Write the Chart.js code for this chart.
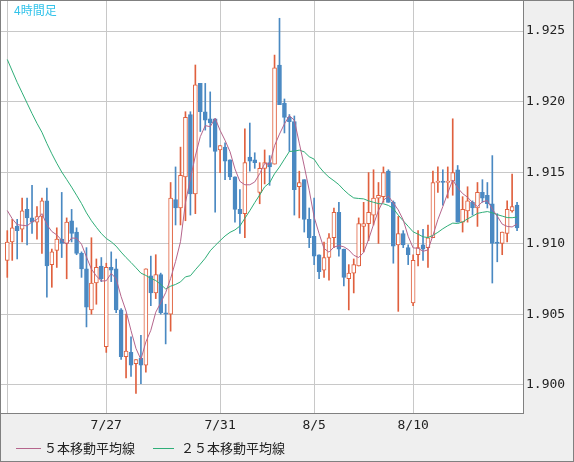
<!DOCTYPE html>
<html>
<head>
<meta charset="utf-8">
<script src="https://cdn.jsdelivr.net/npm/chart.js@4"></script>
<style>
  html, body { margin: 0; padding: 0; background: #efefef; }
  #wrap { width: 574px; height: 462px; }
</style>
</head>
<body>
<div id="wrap"><canvas id="chart" width="574" height="462"></canvas></div>
<script>
// 4-hour candles (oldest first)
const opens = [1.9088,1.9101,1.9112,1.9110,1.9124,1.9118,1.9115,1.9119,1.9130,1.9085,
  1.9095,1.9103,1.9100,1.9116,1.9108,1.9093,1.9082,1.9053,1.9072,1.9084,
  1.9027,1.9083,1.9082,1.9053,1.9020,1.9023,1.9015,1.9019,1.9014,1.9077,
  1.9065,1.9078,1.9051,1.9050,1.9131,1.9125,1.9147,1.9191,1.9135,1.9213,
  1.9193,1.9188,1.9188,1.9166,1.9168,1.9159,1.9147,1.9124,1.9121,1.9161,
  1.9159,1.9136,1.9153,1.9157,1.9156,1.9226,1.9199,1.9189,1.9186,1.9140,
  1.9145,1.9117,1.9105,1.9092,1.9081,1.9090,1.9104,1.9122,1.9096,1.9075,
  1.9079,1.9084,1.9112,1.9114,1.9120,1.9132,1.9133,1.9151,1.9129,1.9099,
  1.9107,1.9097,1.9058,1.9092,1.9099,1.9097,1.9104,1.9143,1.9144,1.9143,
  1.9144,1.9152,1.9115,1.9123,1.9129,1.9125,1.9136,1.9134,1.9128,1.9101,
  1.9100,1.9107,1.9123,1.9127];
const highs = [1.9109,1.9117,1.9117,1.9132,1.9132,1.9141,1.9126,1.9132,1.9139,1.9096,
  1.9111,1.9136,1.9118,1.9124,1.9111,1.9094,1.9097,1.9104,1.9089,1.9090,
  1.9086,1.9094,1.9089,1.9054,1.9050,1.9034,1.9018,1.9035,1.9082,1.9091,
  1.9092,1.9079,1.9057,1.9143,1.9154,1.9168,1.9193,1.9193,1.9226,1.9213,
  1.9213,1.9207,1.9188,1.9169,1.9171,1.9159,1.9147,1.9138,1.9181,1.9185,
  1.9164,1.9157,1.9166,1.9162,1.9233,1.9259,1.9202,1.9191,1.9190,1.9151,
  1.9145,1.9125,1.9132,1.9092,1.9101,1.9107,1.9125,1.9129,1.9096,1.9085,
  1.9089,1.9118,1.9129,1.9150,1.9152,1.9143,1.9154,1.9152,1.9130,1.9119,
  1.9109,1.9099,1.9092,1.9109,1.9110,1.9113,1.9151,1.9154,1.9152,1.9154,
  1.9188,1.9155,1.9133,1.9140,1.9130,1.9143,1.9145,1.9143,1.9162,1.9121,
  1.9108,1.9130,1.9149,1.9129];
const lows = [1.9076,1.9088,1.9089,1.9101,1.9099,1.9107,1.9103,1.9093,1.9062,1.9069,
  1.9083,1.9090,1.9075,1.9101,1.9092,1.9076,1.9041,1.9050,1.9057,1.9073,
  1.9023,1.9073,1.9051,1.9018,1.9005,1.9006,1.8994,1.9001,1.9009,1.9056,
  1.9061,1.9050,1.9029,1.9038,1.9113,1.9113,1.9116,1.9120,1.9121,1.9179,
  1.9180,1.9168,1.9122,1.9150,1.9145,1.9145,1.9115,1.9107,1.9104,1.9151,
  1.9153,1.9128,1.9142,1.9141,1.9156,1.9198,1.9178,1.9165,1.9120,1.9118,
  1.9108,1.9097,1.9085,1.9075,1.9076,1.9074,1.9097,1.9091,1.9070,1.9053,
  1.9065,1.9084,1.9094,1.9102,1.9113,1.9100,1.9129,1.9129,1.9086,1.9052,
  1.9097,1.9085,1.9056,1.9084,1.9088,1.9083,1.9104,1.9136,1.9127,1.9132,
  1.9134,1.9115,1.9108,1.9115,1.9120,1.9112,1.9129,1.9125,1.9072,1.9087,
  1.9092,1.9101,1.9122,1.9109];
const closes = [1.9101,1.9111,1.9109,1.9123,1.9118,1.9115,1.9119,1.9130,1.9084,1.9094,
  1.9103,1.9100,1.9115,1.9107,1.9093,1.9082,1.9055,1.9072,1.9083,1.9075,
  1.9083,1.9081,1.9053,1.9020,1.9024,1.9014,1.9018,1.9014,1.9082,1.9065,
  1.9078,1.9051,1.9050,1.9132,1.9125,1.9148,1.9189,1.9135,1.9212,1.9193,
  1.9187,1.9185,1.9165,1.9169,1.9158,1.9147,1.9124,1.9121,1.9157,1.9158,
  1.9157,1.9153,1.9157,1.9154,1.9224,1.9198,1.9189,1.9186,1.9138,1.9143,
  1.9117,1.9104,1.9091,1.9080,1.9090,1.9104,1.9122,1.9096,1.9076,1.9079,
  1.9085,1.9114,1.9114,1.9122,1.9132,1.9134,1.9150,1.9129,1.9098,1.9107,
  1.9099,1.9092,1.9088,1.9097,1.9096,1.9104,1.9143,1.9144,1.9143,1.9144,
  1.9150,1.9115,1.9124,1.9130,1.9125,1.9136,1.9132,1.9128,1.9100,1.9100,
  1.9108,1.9124,1.9126,1.9111];
// closes before the visible window (needed for the moving averages)
const priorCloses = [1.9315,1.9310,1.9306,1.9302,1.9298,1.9292,1.9288,1.9282,1.9276,1.9270,
  1.9254,1.9248,1.9242,1.9236,1.9228,1.9220,1.9210,1.9200,1.9185,1.9170,
  1.9140,1.9130,1.9125,1.9120];

const yTicks = [1.900, 1.905, 1.910, 1.915, 1.920, 1.925];
const dayIndex = [0, 20, 43, 62, 82];
const dayLabels = ["", "7/27", "7/31", "8/5", "8/10"];

const RED = "#e0603e";
const BLUE = "#4a89c2";

function movingAvg(n) {
  const all = priorCloses.concat(closes);
  const off = priorCloses.length;
  return closes.map((c, i) => {
    let s = 0;
    for (let k = off + i - n + 1; k <= off + i; k++) s += all[k];
    return { x: i, y: s / n };
  });
}

const wicks = closes.map((c, i) => ({ x: i, y: [lows[i], highs[i]] }));
const bodies = closes.map((c, i) => ({ x: i, y: [opens[i], c === opens[i] ? c + 0.00003 : c] }));
const isUp = closes.map((c, i) => c >= opens[i]);

const framePlugin = {
  id: "frame",
  beforeDraw(chart) {
    const { ctx, chartArea: a } = chart;
    ctx.save();
    ctx.fillStyle = "#efefef";
    ctx.fillRect(0, 0, chart.width, chart.height);
    ctx.fillStyle = "#ffffff";
    ctx.fillRect(a.left, a.top, a.right - a.left, a.bottom - a.top);
    ctx.restore();
  },
  afterDraw(chart) {
    const { ctx, chartArea: a } = chart;
    ctx.save();
    ctx.strokeStyle = "#808080";
    ctx.lineWidth = 1;
    ctx.strokeRect(a.left - 0.5, a.top - 0.5, a.right - a.left + 1, a.bottom - a.top + 1);
    ctx.strokeRect(0.5, 0.5, chart.width - 1, chart.height - 1);

    ctx.fillStyle = "#33c3ea";
    ctx.font = '12px "Noto Sans CJK JP"';
    ctx.textBaseline = "middle";
    ctx.fillText("4時間足", 14, 10);

    // legend
    ctx.font = '13px "Noto Sans CJK JP"';
    ctx.fillStyle = "#222";
    ctx.strokeStyle = "#b5658c";
    ctx.beginPath(); ctx.moveTo(16, 448.5); ctx.lineTo(41, 448.5); ctx.stroke();
    ctx.fillText("５本移動平均線", 44, 448);
    ctx.strokeStyle = "#2fae78";
    ctx.beginPath(); ctx.moveTo(153, 448.5); ctx.lineTo(174, 448.5); ctx.stroke();
    ctx.fillText("２５本移動平均線", 181, 448);
    ctx.restore();
  }
};

new Chart(document.getElementById("chart"), {
  type: "bar",
  data: {
    datasets: [
      {
        type: "line",
        data: movingAvg(5),
        borderColor: "#b5658c",
        borderWidth: 1,
        pointRadius: 0,
        tension: 0,
        order: 1,
      },
      {
        type: "line",
        data: movingAvg(25),
        borderColor: "#2fae78",
        borderWidth: 1,
        pointRadius: 0,
        tension: 0,
        order: 1,
      },
      {
        data: bodies,
        grouped: false,
        barThickness: 4,
        backgroundColor: isUp.map((u) => (u ? "#ffffff" : BLUE)),
        borderColor: isUp.map((u) => (u ? RED : BLUE)),
        borderWidth: 1,
        borderSkipped: false,
        order: 2,
      },
      {
        data: wicks,
        grouped: false,
        barThickness: 1,
        backgroundColor: isUp.map((u) => (u ? RED : BLUE)),
        borderWidth: 0,
        order: 3,
      },
    ],
  },
  options: {
    responsive: false,
    animation: false,
    layout: { padding: { top: 1, left: 1, right: 0, bottom: 0 } },
    plugins: { legend: { display: false }, tooltip: { enabled: false } },
    scales: {
      x: {
        type: "linear",
        offset: false,
        bounds: "data",
        min: -1.27,
        max: 104.2,
        afterBuildTicks: (s) => { s.ticks = dayIndex.map((v) => ({ value: v })); },
        afterFit: (s) => { s.height = 49; s.paddingLeft = 0; s.paddingRight = 0; },
        ticks: {
          autoSkip: false,
          maxRotation: 0,
          padding: 5,
          color: "#222",
          font: { family: "DejaVu Sans Mono", size: 13 },
          callback: (v) => dayLabels[dayIndex.indexOf(v)],
        },
        grid: { color: "#c8c8c8", drawTicks: false, offset: false },
        border: { display: false },
      },
      y: {
        position: "right",
        min: 1.89802,
        max: 1.92712,
        afterBuildTicks: (s) => { s.ticks = yTicks.map((v) => ({ value: v })); },
        afterFit: (s) => { s.width = 51; s.paddingTop = 0; s.paddingBottom = 0; },
        ticks: {
          padding: 3,
          color: "#222",
          font: { family: "DejaVu Sans Mono", size: 13 },
          callback: (v) => v.toFixed(3),
        },
        grid: { color: "#c8c8c8", drawTicks: false },
        border: { display: false },
      },
    },
  },
  plugins: [framePlugin],
});
</script>
</body>
</html>
